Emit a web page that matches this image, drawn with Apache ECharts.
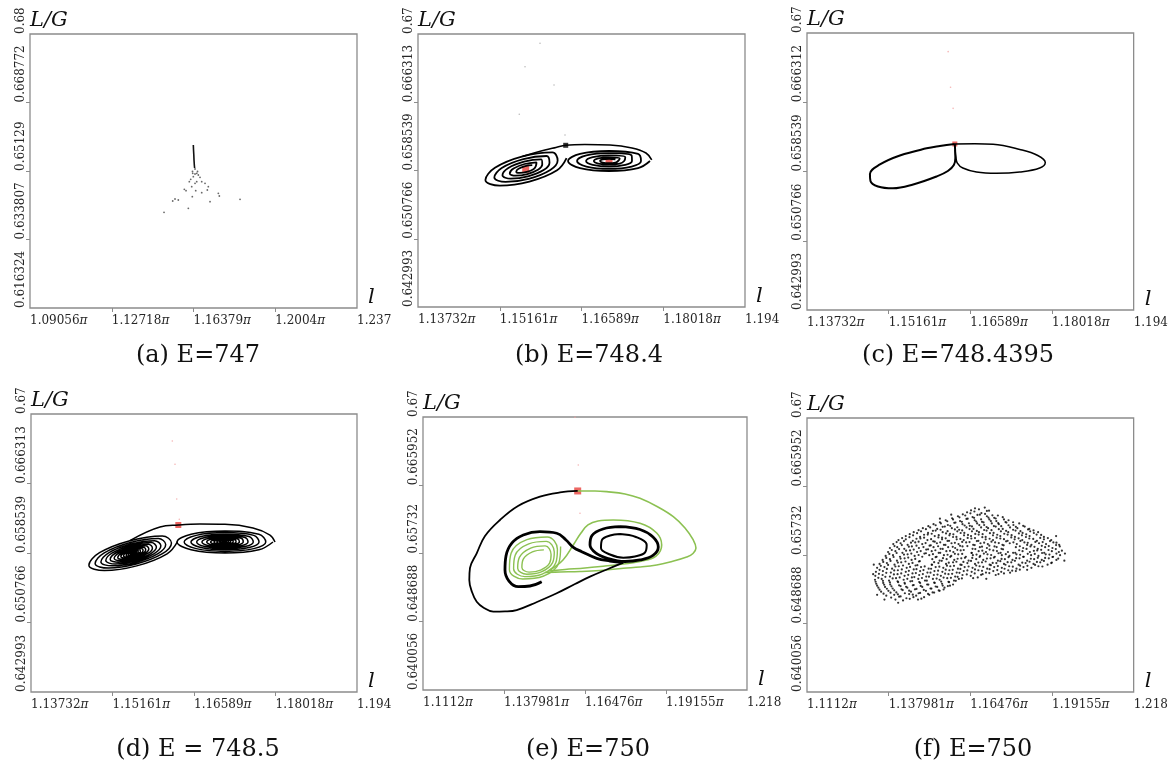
<!DOCTYPE html>
<html lang="en">
<head>
    <meta charset="UTF-8">
    <title>L/G sections</title>
    <script src="https://cdn.jsdelivr.net/npm/echarts@6.0.0/dist/echarts.min.js"></script>
</head>
<body style="margin:0">
<div id="main" style="width: 1171px; height: 767px"></div>
</body>
<script>
    // tick values (l in units of pi, L/G) and their printed labels
    let aXTicks = [1.09056, 1.12718, 1.16379, 1.2004, 1.23702];
    let aXLabels = ['1.09056π', '1.12718π', '1.16379π', '1.2004π', '1.237'];
    let aYTicks = [0.616324, 0.633807, 0.65129, 0.668772, 0.686255];
    let aYLabels = ['0.616324', '0.633807', '0.65129', '0.668772', '0.68'];
    let bXTicks = [1.13732, 1.15161, 1.16589, 1.18018, 1.19446];
    let bXLabels = ['1.13732π', '1.15161π', '1.16589π', '1.18018π', '1.194'];
    let bYTicks = [0.642993, 0.650766, 0.658539, 0.666313, 0.674086];
    let bYLabels = ['0.642993', '0.650766', '0.658539', '0.666313', '0.67'];
    let cYLabels = ['0.642993', '0.650766', '0.658539', '0.666312', '0.67'];
    let eXTicks = [1.1112, 1.137981, 1.16476, 1.19155, 1.218331];
    let eXLabels = ['1.1112π', '1.137981π', '1.16476π', '1.19155π', '1.218'];
    let eYTicks = [0.640056, 0.648688, 0.65732, 0.665952, 0.674584];
    let eYLabels = ['0.640056', '0.648688', '0.65732', '0.665952', '0.67'];
    let captions = ['(a) E=747', '(b) E=748.4', '(c) E=748.4395', '(d) E = 748.5', '(e) E=750', '(f) E=750'];

    // (a) E=747
    let aSpike = [[1.16371,0.657926],[1.16380,0.65665],[1.16393,0.655374],[1.16402,0.654098],[1.16416,0.652822],[1.16429,0.652056]];
    let aDots = [[1.16447,0.651801],[1.16559,0.651163],[1.16447,0.650525],[1.16335,0.651163],
        [1.16344,0.650704],[1.16523,0.650704],[1.16371,0.649836],[1.16595,0.65027],[1.16255,0.649172],[1.16671,0.649683],
        [1.16523,0.64856],[1.16192,0.64856],[1.16747,0.64856],[1.16895,0.648151],[1.16447,0.648151],[1.16299,0.647283],
        [1.15968,0.64662],[1.16044,0.646262],[1.17043,0.647283],[1.16998,0.646441],[1.16479,0.646262],[1.16747,0.645752],
        [1.17491,0.645599],[1.17536,0.64491],[1.16326,0.644731],[1.15551,0.644144],[1.15699,0.643889],[1.17119,0.643455],
        [1.18463,0.644068],[1.16147,0.64177],[1.15059,0.64075],[1.15448,0.643634]];

    // (b) E=748.4
    let bLeftSpiral = [
        [1.16328,0.65995],[1.16162,0.65857],[1.15678,0.65728],[1.15160,0.65682],[1.14910,0.65747],[1.15076,0.65885],[1.15560,0.66015],[1.16079,0.66060],
        [1.16172,0.65968],[1.16043,0.65860],[1.15665,0.65759],[1.15261,0.65724],[1.15066,0.65774],[1.15195,0.65882],[1.15573,0.65983],[1.15977,0.66019],
        [1.16030,0.65943],[1.15934,0.65863],[1.15654,0.65788],[1.15353,0.65761],[1.15208,0.65799],[1.15304,0.65879],[1.15585,0.65954],[1.15886,0.65981],
        [1.15903,0.65921],[1.15836,0.65866],[1.15643,0.65814],[1.15435,0.65795],[1.15335,0.65821],[1.15402,0.65877],[1.15595,0.65928],[1.15803,0.65947],
        [1.15789,0.65901],[1.15749,0.65868],[1.15633,0.65837],[1.15509,0.65826],[1.15449,0.65841],[1.15489,0.65874],[1.15605,0.65905],[1.15729,0.65916]];
    let bRightSpiral = [
        [1.17786,0.65962],[1.17577,0.65881],[1.17070,0.65848],[1.16563,0.65881],[1.16354,0.65962],[1.16563,0.66043],[1.17070,0.66076],[1.17577,0.66043],
        [1.17629,0.65962],[1.17465,0.65899],[1.17070,0.65873],[1.16675,0.65899],[1.16511,0.65962],[1.16675,0.66025],[1.17070,0.66051],[1.17465,0.66025],
        [1.17471,0.65962],[1.17354,0.65917],[1.17070,0.65898],[1.16786,0.65917],[1.16669,0.65962],[1.16786,0.66007],[1.17070,0.66026],[1.17354,0.66007],
        [1.17335,0.65962],[1.17257,0.65932],[1.17070,0.65920],[1.16883,0.65932],[1.16805,0.65962],[1.16883,0.65992],[1.17070,0.66004],[1.17257,0.65992],
        [1.17228,0.65962],[1.17182,0.65944],[1.17070,0.65937],[1.16959,0.65944],[1.16913,0.65962],[1.16959,0.65980],[1.17070,0.65987],[1.17182,0.65980]];
    let bTopArc = [[1.15560,0.66015],[1.15951,0.66087],[1.16143,0.66116],[1.16313,0.66141],[1.16650,0.66150],[1.17087,0.66144],[1.17471,0.66110],[1.17716,0.66053],[1.17816,0.65974]];
    let bSaddle = [[1.16313,0.66141]];
    let bCentres = [[1.15614,0.65868],[1.17070,0.65962]];
    let bFaint = [[1.15864,0.67303],[1.15602,0.67036],[1.16109,0.66828],[1.15502,0.66494],[1.16301,0.66258]];

    // (c) E=748.4395
    let cLeftLoop = [[1.16318,0.66163],[1.16056,0.66140],[1.15824,0.66114],[1.15357,0.66034],[1.15008,0.65933],[1.14833,0.65826],[1.14842,0.65747],[1.14973,0.65686],
        [1.15235,0.65665],[1.15590,0.65708],[1.15998,0.65798],[1.16196,0.65860],[1.16301,0.65927],[1.16327,0.66006],[1.16323,0.66095],[1.16318,0.66163]];
    let cRightLoop = [[1.16318,0.66163],[1.16668,0.66165],[1.16987,0.66159],[1.17454,0.66101],[1.17769,0.66034],[1.17900,0.65955],[1.17803,0.65893],[1.17454,0.65848],
        [1.17047,0.65834],[1.16697,0.65848],[1.16458,0.65893],[1.16362,0.65949],[1.16336,0.66017],[1.16323,0.66095]];
    let cSaddle = [[1.16318,0.66163]];
    let cFaint = [[1.16201,0.67199],[1.16243,0.66799],[1.16288,0.66563]];

    // (d) E = 748.5
    let dLeftSpiral = [
        [1.16303,0.65984],[1.16117,0.65845],[1.15585,0.65710],[1.15017,0.65658],[1.14747,0.65718],[1.14933,0.65857],[1.15465,0.65992],[1.16033,0.66045],
        [1.16194,0.65966],[1.16035,0.65846],[1.15576,0.65730],[1.15088,0.65685],[1.14856,0.65737],[1.15016,0.65856],[1.15474,0.65972],[1.15962,0.66017],
        [1.16093,0.65948],[1.15958,0.65847],[1.15569,0.65748],[1.15154,0.65710],[1.14957,0.65754],[1.15093,0.65855],[1.15482,0.65954],[1.15896,0.65992],
        [1.16008,0.65934],[1.15892,0.65848],[1.15562,0.65764],[1.15210,0.65731],[1.15043,0.65769],[1.15158,0.65855],[1.15488,0.65938],[1.15840,0.65971],
        [1.15930,0.65920],[1.15833,0.65848],[1.15556,0.65778],[1.15261,0.65750],[1.15120,0.65782],[1.15217,0.65854],[1.15494,0.65924],[1.15789,0.65952],
        [1.15860,0.65908],[1.15780,0.65849],[1.15551,0.65790],[1.15306,0.65768],[1.15190,0.65794],[1.15270,0.65853],[1.15499,0.65912],[1.15744,0.65934],
        [1.15797,0.65898],[1.15732,0.65849],[1.15546,0.65802],[1.15347,0.65783],[1.15253,0.65804],[1.15318,0.65853],[1.15504,0.65900],[1.15703,0.65919],
        [1.15743,0.65888],[1.15691,0.65849],[1.15542,0.65812],[1.15383,0.65797],[1.15307,0.65814],[1.15359,0.65853],[1.15508,0.65890],[1.15667,0.65905],
        [1.15696,0.65880],[1.15655,0.65850],[1.15538,0.65820],[1.15413,0.65808],[1.15354,0.65822],[1.15395,0.65852],[1.15512,0.65882],[1.15637,0.65894],
        [1.15650,0.65872],[1.15620,0.65850],[1.15535,0.65829],[1.15444,0.65820],[1.15401,0.65830],[1.15430,0.65852],[1.15515,0.65874],[1.15606,0.65882],
        [1.15611,0.65866],[1.15590,0.65850],[1.15532,0.65836],[1.15469,0.65830],[1.15439,0.65836],[1.15460,0.65852],[1.15518,0.65866],[1.15581,0.65872],
        [1.15572,0.65859],[1.15561,0.65851],[1.15529,0.65843],[1.15495,0.65839],[1.15478,0.65843],[1.15489,0.65851],[1.15521,0.65859],[1.15555,0.65863]];
    let dRightSpiral = [
        [1.17973,0.65977],[1.17726,0.65890],[1.17132,0.65854],[1.16538,0.65890],[1.16291,0.65977],[1.16538,0.66064],[1.17132,0.66100],[1.17726,0.66064],
        [1.17847,0.65977],[1.17637,0.65903],[1.17132,0.65872],[1.16627,0.65903],[1.16417,0.65977],[1.16627,0.66051],[1.17132,0.66082],[1.17637,0.66051],
        [1.17729,0.65977],[1.17554,0.65915],[1.17132,0.65890],[1.16710,0.65915],[1.16535,0.65977],[1.16710,0.66039],[1.17132,0.66064],[1.17554,0.66039],
        [1.17628,0.65977],[1.17483,0.65926],[1.17132,0.65904],[1.16781,0.65926],[1.16636,0.65977],[1.16781,0.66028],[1.17132,0.66050],[1.17483,0.66028],
        [1.17536,0.65977],[1.17417,0.65935],[1.17132,0.65918],[1.16847,0.65935],[1.16728,0.65977],[1.16847,0.66019],[1.17132,0.66036],[1.17417,0.66019],
        [1.17452,0.65977],[1.17358,0.65944],[1.17132,0.65930],[1.16906,0.65944],[1.16812,0.65977],[1.16906,0.66010],[1.17132,0.66024],[1.17358,0.66010],
        [1.17384,0.65977],[1.17310,0.65951],[1.17132,0.65940],[1.16954,0.65951],[1.16880,0.65977],[1.16954,0.66003],[1.17132,0.66014],[1.17310,0.66003],
        [1.17326,0.65977],[1.17269,0.65957],[1.17132,0.65949],[1.16995,0.65957],[1.16939,0.65977],[1.16995,0.65997],[1.17132,0.66005],[1.17269,0.65997],
        [1.17275,0.65977],[1.17233,0.65962],[1.17132,0.65956],[1.17031,0.65962],[1.16989,0.65977],[1.17031,0.65992],[1.17132,0.65998],[1.17233,0.65992],
        [1.17225,0.65977],[1.17197,0.65967],[1.17132,0.65964],[1.17067,0.65967],[1.17040,0.65977],[1.17067,0.65987],[1.17132,0.65991],[1.17197,0.65987],
        [1.17183,0.65977],[1.17168,0.65972],[1.17132,0.65970],[1.17096,0.65972],[1.17082,0.65977],[1.17096,0.65982],[1.17132,0.65984],[1.17168,0.65982]];
    let dTopArc = [[1.15465,0.65992],[1.15993,0.66145],[1.16314,0.66167],[1.16694,0.66178],[1.17132,0.66175],[1.17623,0.66134],[1.17921,0.66055],[1.18009,0.65977]];
    let dSaddle = [[1.16314,0.66167]];
    let dFaint = [[1.16209,0.67107],[1.16256,0.66846],[1.16286,0.66458],[1.16331,0.66231]];

    // (e) E=750
    let eBlackOuter = [[1.16235,0.66523],[1.15650,0.66504],[1.14988,0.66451],[1.14261,0.66333],[1.13666,0.66156],[1.13170,0.65953],[1.12896,0.65735],
        [1.12674,0.65549],[1.12651,0.65397],[1.12740,0.65245],[1.12896,0.65122],[1.13137,0.65043],[1.13444,0.64996],[1.13831,0.64999],[1.14218,0.65017],
        [1.14889,0.65119],[1.15541,0.65229],[1.16146,0.65346],[1.16642,0.65439],[1.17237,0.65536],[1.17743,0.65616]];
    let eBlackLeft = [[1.15045,0.65375],[1.14658,0.65321],[1.14271,0.65312],[1.13963,0.65384],[1.13831,0.65523],[1.13864,0.65700],[1.14063,0.65865],
        [1.14436,0.65966],[1.14988,0.66008],[1.15541,0.65988],[1.15848,0.65903],[1.16080,0.65814],[1.16367,0.65755],[1.16863,0.65671],[1.17303,0.65637],[1.17743,0.65616]];
    let eBlackRightOuter = [[1.17633,0.66071],[1.18295,0.66036],[1.18725,0.65941],[1.18900,0.65814],[1.18725,0.65707],[1.18295,0.65650],[1.17799,0.65631],
        [1.17237,0.65669],[1.16840,0.65738],[1.16642,0.65840],[1.16708,0.65960],[1.17071,0.66042],[1.17633,0.66071]];
    let eBlackRightInner = [[1.17633,0.65979],[1.18162,0.65941],[1.18516,0.65840],[1.18460,0.65745],[1.18129,0.65694],[1.17743,0.65679],[1.17303,0.65719],
        [1.17005,0.65802],[1.17038,0.65903],[1.17303,0.65960],[1.17633,0.65979]];
    let eGreenOuter = [[1.16235,0.66523],[1.16807,0.66523],[1.17194,0.66514],[1.17799,0.66485],[1.18295,0.66430],[1.18890,0.66320],[1.19396,0.66198],
        [1.19783,0.66055],[1.20057,0.65903],[1.20146,0.65802],[1.20047,0.65732],[1.19839,0.65688],[1.19287,0.65625],[1.18847,0.65587],[1.18295,0.65561],
        [1.17743,0.65545],[1.16972,0.65517],[1.16311,0.65504],[1.15650,0.65498],[1.15154,0.65492]];
    let eGreenRight = [[1.15319,0.65523],[1.15749,0.65650],[1.16089,0.65840],[1.16344,0.65991],[1.16575,0.66093],[1.16906,0.66143],[1.17412,0.66156],
        [1.18295,0.66114],[1.18847,0.65991],[1.19012,0.65840],[1.18824,0.65700],[1.18295,0.65631],[1.17743,0.65599],[1.17138,0.65574],[1.16476,0.65549],
        [1.15815,0.65530],[1.15253,0.65511]];
    let eGreenRings = [
        [1.15670,0.65819],[1.15613,0.65614],[1.15091,0.65444],[1.14416,0.65410],[1.13977,0.65531],[1.14033,0.65736],[1.14555,0.65907],[1.15230,0.65941],
        [1.15564,0.65786],[1.15511,0.65614],[1.15061,0.65472],[1.14486,0.65440],[1.14116,0.65539],[1.14168,0.65711],[1.14618,0.65854],[1.15193,0.65885],
        [1.15461,0.65752],[1.15405,0.65617],[1.15031,0.65499],[1.14552,0.65470],[1.14251,0.65547],[1.14307,0.65683],[1.14681,0.65800],[1.15160,0.65829],
        [1.15355,0.65719],[1.15309,0.65613],[1.15008,0.65522],[1.14628,0.65497],[1.14390,0.65555],[1.14436,0.65661],[1.14737,0.65752],[1.15117,0.65778]];
    let eSaddle = [[1.16235,0.66523]];
    let eFaint = [[1.16146,0.67455],[1.16255,0.66851],[1.16311,0.66241]];

    // (f) E=750, scattered section points (two passes of reading the cloud)
    let fCloud = [
        [1.1402,0.6517],[1.1427,0.6516],[1.1449,0.6518],[1.1476,0.6517],
        [1.1372,0.6522],[1.1398,0.6523],[1.1419,0.6521],[1.1447,0.6524],[1.1470,0.6522],[1.1496,0.6520],[1.1513,0.6523],
        [1.1355,0.6527],[1.1379,0.6528],[1.1405,0.6526],[1.1426,0.6529],[1.1453,0.6527],[1.1478,0.6525],[1.1502,0.6528],[1.1524,0.6526],[1.1547,0.6528],
        [1.1346,0.6532],[1.1368,0.6533],[1.1393,0.6531],[1.1419,0.6534],[1.1441,0.6532],[1.1466,0.6530],[1.1490,0.6533],[1.1517,0.6531],[1.1539,0.6533],[1.1563,0.6532],[1.1574,0.6534],
        [1.1339,0.6537],[1.1362,0.6538],[1.1385,0.6536],[1.1411,0.6539],[1.1433,0.6537],[1.1459,0.6535],[1.1483,0.6538],[1.1506,0.6536],[1.1531,0.6538],[1.1555,0.6537],[1.1578,0.6539],[1.1591,0.6536],
        [1.1335,0.6542],[1.1357,0.6543],[1.1381,0.6541],[1.1404,0.6544],[1.1429,0.6542],[1.1451,0.6540],[1.1477,0.6543],[1.1499,0.6541],[1.1525,0.6543],[1.1547,0.6542],[1.1572,0.6544],[1.1594,0.6541],[1.1610,0.6543],[1.1657,0.6544],
        [1.1336,0.6547],[1.1360,0.6548],[1.1384,0.6546],[1.1409,0.6549],[1.1432,0.6547],[1.1456,0.6545],[1.1480,0.6548],[1.1503,0.6546],[1.1528,0.6548],[1.1551,0.6547],[1.1576,0.6549],[1.1598,0.6546],[1.1622,0.6548],[1.1649,0.6547],[1.1688,0.6549],[1.1731,0.6548],[1.1758,0.6550],
        [1.1338,0.6552],[1.1361,0.6553],[1.1387,0.6551],[1.1410,0.6554],[1.1436,0.6552],[1.1458,0.6550],[1.1483,0.6553],[1.1507,0.6551],[1.1530,0.6553],[1.1556,0.6552],[1.1579,0.6554],[1.1603,0.6551],[1.1626,0.6553],[1.1652,0.6552],[1.1674,0.6554],[1.1699,0.6551],[1.1723,0.6553],[1.1749,0.6552],[1.1772,0.6554],[1.1797,0.6553],
        [1.1342,0.6557],[1.1366,0.6558],[1.1391,0.6556],[1.1413,0.6559],[1.1439,0.6557],[1.1462,0.6555],[1.1486,0.6558],[1.1511,0.6556],[1.1534,0.6558],[1.1559,0.6557],[1.1582,0.6559],[1.1607,0.6556],[1.1629,0.6558],[1.1655,0.6557],[1.1678,0.6559],[1.1703,0.6556],[1.1726,0.6558],[1.1751,0.6557],[1.1775,0.6559],[1.1799,0.6556],[1.1822,0.6558],[1.1848,0.6557],[1.1871,0.6559],
        [1.1350,0.6562],[1.1374,0.6563],[1.1399,0.6561],[1.1421,0.6564],[1.1446,0.6562],[1.1468,0.6560],[1.1521,0.6561],[1.1543,0.6563],[1.1568,0.6562],[1.1591,0.6564],[1.1615,0.6561],[1.1638,0.6563],[1.1663,0.6562],[1.1686,0.6564],[1.1711,0.6561],[1.1733,0.6563],[1.1758,0.6562],[1.1782,0.6564],[1.1806,0.6561],[1.1829,0.6563],[1.1855,0.6562],[1.1877,0.6564],[1.1901,0.6561],[1.1913,0.6563],
        [1.1360,0.6567],[1.1384,0.6568],[1.1407,0.6566],[1.1432,0.6569],[1.1455,0.6567],[1.1479,0.6565],[1.1523,0.6568],[1.1547,0.6566],[1.1570,0.6568],[1.1595,0.6567],[1.1618,0.6569],[1.1642,0.6566],[1.1667,0.6568],[1.1690,0.6567],[1.1714,0.6569],[1.1738,0.6566],[1.1761,0.6568],[1.1786,0.6567],[1.1809,0.6569],[1.1834,0.6566],[1.1857,0.6568],[1.1882,0.6567],[1.1905,0.6569],[1.1930,0.6567],
        [1.1370,0.6572],[1.1394,0.6573],[1.1417,0.6571],[1.1442,0.6574],[1.1465,0.6572],[1.1490,0.6571],[1.1513,0.6573],[1.1537,0.6571],[1.1561,0.6573],[1.1585,0.6572],[1.1608,0.6574],[1.1633,0.6571],[1.1656,0.6573],[1.1680,0.6572],[1.1704,0.6574],[1.1728,0.6571],[1.1751,0.6573],[1.1776,0.6572],[1.1799,0.6574],[1.1823,0.6571],[1.1847,0.6573],[1.1871,0.6572],[1.1895,0.6574],[1.1919,0.6571],[1.1942,0.6573],
        [1.1378,0.6577],[1.1402,0.6578],[1.1425,0.6576],[1.1450,0.6579],[1.1473,0.6577],[1.1497,0.6575],[1.1521,0.6578],[1.1544,0.6576],[1.1569,0.6578],[1.1592,0.6577],[1.1616,0.6579],[1.1652,0.6576],[1.1675,0.6578],[1.1699,0.6577],[1.1723,0.6579],[1.1747,0.6576],[1.1771,0.6577],[1.1795,0.6576],[1.1819,0.6578],[1.1843,0.6577],[1.1867,0.6579],[1.1890,0.6576],[1.1915,0.6578],[1.1938,0.6577],
        [1.1384,0.6582],[1.1408,0.6583],[1.1431,0.6581],[1.1456,0.6584],[1.1479,0.6582],[1.1503,0.6580],[1.1527,0.6583],[1.1550,0.6581],[1.1575,0.6583],[1.1598,0.6582],[1.1622,0.6584],[1.1655,0.6581],[1.1679,0.6583],[1.1702,0.6582],[1.1727,0.6584],[1.1750,0.6581],[1.1797,0.6583],[1.1821,0.6582],[1.1845,0.6584],[1.1869,0.6581],[1.1893,0.6583],[1.1917,0.6582],[1.1941,0.6584],
        [1.1395,0.6587],[1.1419,0.6588],[1.1442,0.6586],[1.1467,0.6589],[1.1490,0.6587],[1.1514,0.6585],[1.1538,0.6588],[1.1561,0.6586],[1.1586,0.6588],[1.1609,0.6587],[1.1634,0.6589],[1.1657,0.6586],[1.1681,0.6588],[1.1705,0.6587],[1.1729,0.6589],[1.1753,0.6586],[1.1777,0.6588],[1.1800,0.6587],[1.1825,0.6589],[1.1848,0.6586],[1.1873,0.6588],[1.1896,0.6587],[1.1920,0.6589],[1.1939,0.6586],
        [1.1412,0.6592],[1.1436,0.6593],[1.1459,0.6591],[1.1484,0.6594],[1.1507,0.6592],[1.1531,0.6590],[1.1555,0.6593],[1.1578,0.6591],[1.1603,0.6593],[1.1626,0.6592],[1.1651,0.6594],[1.1674,0.6591],[1.1698,0.6593],[1.1722,0.6592],[1.1746,0.6594],[1.1770,0.6591],[1.1793,0.6593],[1.1818,0.6592],[1.1841,0.6594],[1.1866,0.6591],[1.1889,0.6593],[1.1913,0.6592],
        [1.1436,0.6597],[1.1460,0.6598],[1.1483,0.6596],[1.1508,0.6599],[1.1531,0.6597],[1.1555,0.6595],[1.1579,0.6598],[1.1602,0.6596],[1.1627,0.6598],[1.1650,0.6597],[1.1675,0.6599],[1.1698,0.6596],[1.1722,0.6598],[1.1746,0.6597],[1.1770,0.6599],[1.1794,0.6596],[1.1817,0.6598],[1.1842,0.6597],[1.1865,0.6599],[1.1889,0.6596],
        [1.1462,0.6602],[1.1486,0.6603],[1.1509,0.6601],[1.1534,0.6604],[1.1557,0.6602],[1.1581,0.6600],[1.1605,0.6603],[1.1628,0.6601],[1.1653,0.6603],[1.1676,0.6602],[1.1701,0.6604],[1.1724,0.6601],[1.1748,0.6603],[1.1772,0.6602],[1.1796,0.6604],[1.1819,0.6601],[1.1844,0.6603],[1.1870,0.6602],
        [1.1492,0.6607],[1.1516,0.6608],[1.1539,0.6606],[1.1564,0.6609],[1.1587,0.6607],[1.1611,0.6605],[1.1635,0.6608],[1.1658,0.6606],[1.1683,0.6608],[1.1706,0.6607],[1.1731,0.6609],[1.1754,0.6606],[1.1778,0.6608],[1.1802,0.6607],[1.1826,0.6609],[1.1841,0.6606],
        [1.1527,0.6612],[1.1551,0.6613],[1.1574,0.6611],[1.1599,0.6614],[1.1622,0.6612],[1.1646,0.6610],[1.1670,0.6613],[1.1693,0.6611],[1.1718,0.6613],[1.1741,0.6612],[1.1766,0.6614],[1.1789,0.6611],[1.1808,0.6613],
        [1.1567,0.6617],[1.1591,0.6618],[1.1614,0.6616],[1.1639,0.6619],[1.1662,0.6617],[1.1686,0.6615],[1.1710,0.6618],[1.1733,0.6616],[1.1758,0.6618],[1.1773,0.6617],
        [1.1607,0.6622],[1.1631,0.6623],[1.1655,0.6621],[1.1679,0.6624],[1.1702,0.6622],[1.1726,0.6620],[1.1738,0.6623],
        [1.1637,0.6627],[1.1661,0.6628],[1.1684,0.6626],[1.1709,0.6629],
        [1.1663,0.6632],[1.1695,0.6633],
        [1.1329,0.6549],[1.1331,0.6561],[1.1342,0.6523],[1.1366,0.6517],[1.1411,0.6513],[1.1585,0.6624],[1.1548,0.6619],[1.1958,0.6575],[1.1956,0.6566],[1.1929,0.6597]];
    let fCloudB = [
        [1.1388,0.65195],[1.1414,0.65207],[1.1438,0.65187],[1.1461,0.65200],[1.1487,0.65182],
        [1.1363,0.65245],[1.1386,0.65257],[1.1410,0.65237],[1.1433,0.65250],[1.1459,0.65232],[1.1483,0.65254],[1.1509,0.65242],[1.1529,0.65259],
        [1.1350,0.65295],[1.1374,0.65307],[1.1398,0.65287],[1.1422,0.65300],[1.1447,0.65282],[1.1471,0.65304],[1.1495,0.65292],[1.1520,0.65309],[1.1544,0.65285],[1.1560,0.65297],
        [1.1342,0.65345],[1.1365,0.65357],[1.1389,0.65337],[1.1414,0.65350],[1.1437,0.65332],[1.1462,0.65354],[1.1485,0.65342],[1.1510,0.65359],[1.1534,0.65335],[1.1557,0.65347],[1.1581,0.65345],
        [1.1337,0.65395],[1.1361,0.65407],[1.1384,0.65387],[1.1409,0.65400],[1.1432,0.65382],[1.1457,0.65404],[1.1480,0.65392],[1.1505,0.65409],[1.1529,0.65385],[1.1552,0.65397],[1.1576,0.65395],[1.1600,0.65407],
        [1.1346,0.65445],[1.1369,0.65457],[1.1393,0.65437],[1.1416,0.65450],[1.1441,0.65432],[1.1464,0.65454],[1.1489,0.65442],[1.1512,0.65459],[1.1537,0.65435],[1.1560,0.65447],[1.1584,0.65445],[1.1606,0.65457],[1.1620,0.65437],[1.1672,0.65450],[1.1700,0.65432],
        [1.1348,0.65495],[1.1372,0.65507],[1.1397,0.65487],[1.1421,0.65500],[1.1444,0.65482],[1.1469,0.65504],[1.1492,0.65492],[1.1517,0.65509],[1.1540,0.65485],[1.1565,0.65497],[1.1588,0.65495],[1.1612,0.65507],[1.1636,0.65487],[1.1662,0.65500],[1.1683,0.65482],[1.1710,0.65504],[1.1740,0.65492],[1.1778,0.65509],
        [1.1350,0.65545],[1.1374,0.65557],[1.1398,0.65537],[1.1423,0.65550],[1.1446,0.65532],[1.1471,0.65554],[1.1494,0.65542],[1.1519,0.65559],[1.1542,0.65535],[1.1567,0.65547],[1.1590,0.65545],[1.1615,0.65557],[1.1638,0.65537],[1.1663,0.65550],[1.1686,0.65532],[1.1711,0.65554],[1.1736,0.65542],[1.1760,0.65559],[1.1785,0.65535],[1.1810,0.65547],[1.1834,0.65545],
        [1.1354,0.65595],[1.1378,0.65607],[1.1402,0.65587],[1.1427,0.65600],[1.1450,0.65582],[1.1474,0.65604],[1.1498,0.65588],[1.1522,0.65609],[1.1546,0.65585],[1.1571,0.65597],[1.1594,0.65595],[1.1619,0.65607],[1.1642,0.65587],[1.1667,0.65600],[1.1690,0.65582],[1.1715,0.65604],[1.1738,0.65592],[1.1763,0.65609],[1.1787,0.65585],[1.1811,0.65597],[1.1835,0.65595],[1.1860,0.65607],[1.1884,0.65587],
        [1.1362,0.65645],[1.1386,0.65657],[1.1410,0.65637],[1.1435,0.65650],[1.1458,0.65632],[1.1482,0.65654],[1.1529,0.65642],[1.1554,0.65659],[1.1577,0.65635],[1.1602,0.65647],[1.1625,0.65645],[1.1650,0.65657],[1.1674,0.65637],[1.1698,0.65650],[1.1721,0.65632],[1.1746,0.65654],[1.1770,0.65642],[1.1794,0.65659],[1.1818,0.65635],[1.1842,0.65647],[1.1866,0.65645],[1.1889,0.65657],[1.1915,0.65637],
        [1.1372,0.65695],[1.1396,0.65707],[1.1419,0.65687],[1.1444,0.65700],[1.1467,0.65682],[1.1534,0.65704],[1.1558,0.65692],[1.1582,0.65709],[1.1606,0.65685],[1.1630,0.65697],[1.1654,0.65695],[1.1678,0.65707],[1.1702,0.65687],[1.1725,0.65700],[1.1750,0.65682],[1.1773,0.65704],[1.1798,0.65692],[1.1821,0.65709],[1.1846,0.65685],[1.1869,0.65697],[1.1893,0.65695],[1.1917,0.65707],[1.1936,0.65687],
        [1.1382,0.65745],[1.1406,0.65757],[1.1430,0.65737],[1.1454,0.65750],[1.1478,0.65732],[1.1502,0.65754],[1.1525,0.65742],[1.1549,0.65759],[1.1573,0.65735],[1.1597,0.65747],[1.1621,0.65745],[1.1652,0.65757],[1.1668,0.65737],[1.1692,0.65750],[1.1716,0.65732],[1.1740,0.65754],[1.1764,0.65742],[1.1788,0.65759],[1.1811,0.65735],[1.1836,0.65747],[1.1859,0.65745],[1.1883,0.65757],[1.1907,0.65737],[1.1930,0.65750],
        [1.1390,0.65795],[1.1414,0.65807],[1.1437,0.65787],[1.1462,0.65800],[1.1485,0.65782],[1.1509,0.65804],[1.1533,0.65792],[1.1557,0.65809],[1.1581,0.65785],[1.1605,0.65797],[1.1626,0.65795],[1.1664,0.65807],[1.1687,0.65787],[1.1711,0.65800],[1.1735,0.65782],[1.1755,0.65804],[1.1808,0.65792],[1.1832,0.65809],[1.1856,0.65785],[1.1880,0.65797],[1.1904,0.65795],[1.1928,0.65807],[1.1948,0.65787],
        [1.1399,0.65845],[1.1423,0.65857],[1.1446,0.65837],[1.1471,0.65850],[1.1494,0.65832],[1.1518,0.65854],[1.1542,0.65842],[1.1566,0.65859],[1.1590,0.65835],[1.1614,0.65847],[1.1638,0.65845],[1.1662,0.65857],[1.1686,0.65837],[1.1710,0.65850],[1.1734,0.65832],[1.1757,0.65854],[1.1810,0.65842],[1.1834,0.65859],[1.1858,0.65835],[1.1882,0.65847],[1.1905,0.65845],[1.1929,0.65857],
        [1.1406,0.65895],[1.1430,0.65907],[1.1453,0.65887],[1.1478,0.65900],[1.1501,0.65882],[1.1526,0.65904],[1.1549,0.65892],[1.1573,0.65909],[1.1597,0.65885],[1.1621,0.65897],[1.1645,0.65895],[1.1669,0.65907],[1.1693,0.65887],[1.1717,0.65900],[1.1741,0.65882],[1.1765,0.65904],[1.1789,0.65892],[1.1812,0.65909],[1.1836,0.65885],[1.1861,0.65897],[1.1885,0.65895],[1.1909,0.65907],[1.1930,0.65887],
        [1.1424,0.65945],[1.1448,0.65957],[1.1471,0.65937],[1.1496,0.65950],[1.1519,0.65932],[1.1543,0.65954],[1.1567,0.65942],[1.1591,0.65959],[1.1615,0.65935],[1.1639,0.65947],[1.1663,0.65945],[1.1687,0.65957],[1.1711,0.65937],[1.1734,0.65950],[1.1758,0.65932],[1.1782,0.65954],[1.1806,0.65942],[1.1830,0.65959],[1.1854,0.65935],[1.1877,0.65947],[1.1902,0.65945],
        [1.1449,0.65995],[1.1473,0.66007],[1.1496,0.65987],[1.1521,0.66000],[1.1544,0.65982],[1.1568,0.66004],[1.1592,0.65992],[1.1616,0.66009],[1.1640,0.65985],[1.1664,0.65997],[1.1688,0.65995],[1.1712,0.66007],[1.1736,0.65987],[1.1759,0.66000],[1.1783,0.65982],[1.1807,0.66004],[1.1831,0.65992],[1.1856,0.66009],[1.1880,0.65985],
        [1.1478,0.66045],[1.1502,0.66057],[1.1525,0.66037],[1.1550,0.66050],[1.1573,0.66032],[1.1597,0.66054],[1.1621,0.66042],[1.1645,0.66059],[1.1669,0.66035],[1.1693,0.66047],[1.1717,0.66045],[1.1741,0.66057],[1.1765,0.66037],[1.1788,0.66050],[1.1812,0.66032],[1.1837,0.66054],[1.1855,0.66042],
        [1.1510,0.66095],[1.1534,0.66107],[1.1557,0.66087],[1.1582,0.66100],[1.1605,0.66082],[1.1629,0.66104],[1.1653,0.66092],[1.1677,0.66109],[1.1701,0.66085],[1.1725,0.66097],[1.1749,0.66095],[1.1773,0.66107],[1.1797,0.66087],[1.1821,0.66100],
        [1.1548,0.66145],[1.1572,0.66157],[1.1595,0.66137],[1.1620,0.66150],[1.1643,0.66132],[1.1667,0.66154],[1.1691,0.66142],[1.1715,0.66159],[1.1739,0.66135],[1.1763,0.66147],[1.1788,0.66145],
        [1.1588,0.66195],[1.1612,0.66207],[1.1635,0.66187],[1.1660,0.66200],[1.1683,0.66182],[1.1707,0.66204],[1.1731,0.66192],[1.1754,0.66209],
        [1.1623,0.66245],[1.1648,0.66257],[1.1671,0.66237],[1.1696,0.66250],[1.1720,0.66232],
        [1.1650,0.66295],[1.1676,0.66307],[1.1702,0.66287]];

    const SERIF = 'DejaVu Serif';
    const FRAME = '#8c8c8c';
    const INK = '#262626';
    const GREEN = '#8cc152';
    const RED = '#e8413c';

    let grids = [
        {left: 30, top: 34, width: 327, height: 274},
        {left: 418, top: 34, width: 327, height: 273},
        {left: 807, top: 33, width: 327, height: 277},
        {left: 31, top: 414, width: 326, height: 278},
        {left: 423, top: 417, width: 324, height: 273},
        {left: 807, top: 418, width: 328, height: 274}
    ];
    let axesOf = [
        [aXTicks, aXLabels, aYTicks, aYLabels],
        [bXTicks, bXLabels, bYTicks, bYLabels],
        [bXTicks, bXLabels, bYTicks, cYLabels],
        [bXTicks, bXLabels, bYTicks, bYLabels],
        [eXTicks, eXLabels, eYTicks, eYLabels],
        [eXTicks, eXLabels, eYTicks, eYLabels]
    ];
    let captionPos = [[198, 356], [589, 356], [958, 356], [198, 750], [588, 750], [973, 750]];

    function pick(ticks, labels, v) {
        for (let i = 0; i < ticks.length; i++) {
            if (Math.abs(ticks[i] - v) < 1e-7) return labels[i];
        }
        return '';
    }

    function xAxisOf(i) {
        let [ticks, labels] = axesOf[i];
        return {
            type: 'value', gridIndex: i, min: ticks[0], max: ticks[4],
            name: 'l', nameLocation: 'end', nameGap: 11,
            nameTextStyle: {fontFamily: SERIF, fontStyle: 'italic', fontSize: 21, color: '#111', align: 'left', verticalAlign: 'bottom'},
            axisLine: {show: false},
            splitLine: {show: false},
            axisTick: {show: true, length: 4, customValues: ticks.slice(1, 4), lineStyle: {color: FRAME, width: 1}},
            axisLabel: {
                customValues: ticks, align: 'left', verticalAlign: 'top', margin: 7,
                formatter: function (v) {
                    let s = pick(ticks, labels, v);
                    return s.endsWith('π') ? '{n|' + s.slice(0, -1) + '}{p|π}' : '{n|' + s + '}';
                },
                rich: {
                    n: {fontFamily: SERIF, fontSize: 12, color: INK},
                    p: {fontFamily: SERIF, fontSize: 12, color: INK, fontStyle: 'italic'}
                }
            }
        };
    }

    function yAxisOf(i) {
        let ticks = axesOf[i][2], labels = axesOf[i][3];
        return {
            type: 'value', gridIndex: i, min: ticks[0], max: ticks[4],
            name: 'L/G', nameLocation: 'end', nameGap: 3,
            nameTextStyle: {fontFamily: SERIF, fontStyle: 'italic', fontSize: 21, color: '#111', align: 'left', verticalAlign: 'bottom'},
            axisLine: {show: false},
            splitLine: {show: false},
            axisTick: {show: true, length: 4, customValues: ticks.slice(1, 4), lineStyle: {color: FRAME, width: 1}},
            axisLabel: {
                customValues: ticks, rotate: 90, align: 'left', verticalAlign: 'bottom', margin: 3,
                fontFamily: SERIF, fontSize: 12, color: INK,
                formatter: function (v) { return pick(ticks, labels, v); }
            }
        };
    }

    function curve(i, data, color, width, smooth) {
        return {
            type: 'line', xAxisIndex: i, yAxisIndex: i, data: data,
            showSymbol: false, symbol: 'none', smooth: smooth === undefined ? 0.4 : smooth,
            lineStyle: {color: color, width: width}, silent: true
        };
    }

    function dots(i, data, color, size, shape) {
        return {
            type: 'scatter', xAxisIndex: i, yAxisIndex: i, data: data,
            symbol: shape || 'circle', symbolSize: size,
            itemStyle: {color: color}, silent: true
        };
    }

    let option = {
        animation: false,
        grid: grids.map(g => Object.assign({show: true, borderColor: FRAME, borderWidth: 1.3, backgroundColor: 'transparent'}, g)),
        xAxis: grids.map((g, i) => xAxisOf(i)),
        yAxis: grids.map((g, i) => yAxisOf(i)),
        graphic: captions.map((t, i) => ({
            type: 'text', x: captionPos[i][0], y: captionPos[i][1],
            style: {text: t, fill: '#111', font: '24px "DejaVu Serif"', align: 'center', verticalAlign: 'middle', textAlign: 'center', textVerticalAlign: 'middle'}
        })),
        series: [
            // (a)
            curve(0, aSpike, '#111', 1.6, false),
            dots(0, aDots, '#444', 1.8),
            // (b)
            curve(1, bLeftSpiral, '#000', 1.8),
            curve(1, bRightSpiral, '#000', 1.8),
            curve(1, bTopArc, '#000', 1.6),
            dots(1, bFaint, '#aaa', 1.6),
            dots(1, bSaddle, '#000', 5, 'rect'),
            dots(1, bCentres, RED, 7, 'rect'),
            // (c)
            curve(2, cLeftLoop, '#000', 2),
            curve(2, cRightLoop, '#000', 1.5),
            dots(2, cFaint, '#f3a3a3', 1.6),
            dots(2, cSaddle, RED, 5, 'rect'),
            // (d)
            curve(3, dLeftSpiral, '#000', 1.5),
            curve(3, dRightSpiral, '#000', 1.5),
            curve(3, dTopArc, '#000', 1.5),
            dots(3, dFaint, '#f3a3a3', 1.6),
            dots(3, dSaddle, RED, 6, 'rect'),
            // (e)
            curve(4, eGreenOuter, GREEN, 1.6),
            curve(4, eGreenRight, GREEN, 1.6),
            curve(4, eGreenRings, GREEN, 1.4),
            curve(4, eBlackOuter, '#000', 1.8),
            curve(4, eBlackLeft, '#000', 2.8),
            curve(4, eBlackRightOuter, '#000', 2.8),
            curve(4, eBlackRightInner, '#000', 2),
            dots(4, eFaint, '#f3a3a3', 1.6),
            dots(4, eSaddle, RED, 7, 'rect'),
            // (f)
            dots(5, fCloud, '#000', 2.2),
            dots(5, fCloudB, '#000', 2.2)
        ]
    };

    let myChart = echarts.init(document.getElementById('main'));
    myChart.setOption(option);
</script>
</html>
